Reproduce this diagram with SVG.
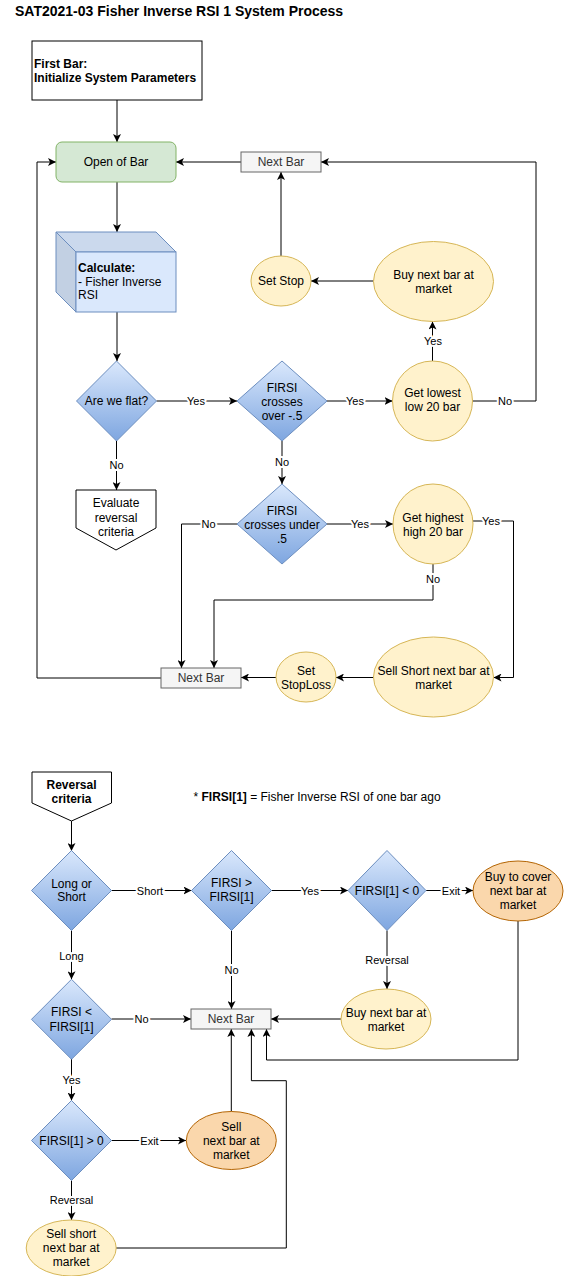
<svg xmlns="http://www.w3.org/2000/svg" width="564" height="1276" viewBox="0 0 564 1276">
<style>
text{font-family:"Liberation Sans",Arial,sans-serif;font-size:12px;fill:#000}
.c{text-anchor:middle}
.b{font-weight:bold}
.nb{fill:#333}
.lbl{font-size:11px;text-anchor:middle;stroke:#fff;stroke-width:4;paint-order:stroke;stroke-linejoin:round}
.e{fill:none;stroke:#000;stroke-width:1}
.a{marker-end:url(#arr)}
.box{fill:#fff;stroke:#000;stroke-width:1}
.green{fill:#d5e8d4;stroke:#82b366}
.gray{fill:#f5f5f5;stroke:#666}
.dia{fill:url(#blueGrad);stroke:#6c8ebf}
.yel{fill:#fff2cc;stroke:#d6b656}
.org{fill:#fad7ac;stroke:#b46504}
</style>
<defs>
<linearGradient id="blueGrad" x1="0" y1="0" x2="0" y2="1">
<stop offset="0" stop-color="#dae8fc"/>
<stop offset="1" stop-color="#7ea6e0"/>
</linearGradient>
<marker id="arr" markerUnits="userSpaceOnUse" markerWidth="8" markerHeight="8" viewBox="0 0 10 10" refX="10" refY="5" orient="auto">
<path d="M0,0 L10,5 L0,10 L2.5,5 z" fill="#000"/>
</marker>
</defs>
<rect width="564" height="1276" fill="#fff"/>
<text x="15" y="16" class="b" style="font-size:14px">SAT2021-03 Fisher Inverse RSI 1 System Process</text>

<g id="connectors">
<path class="e a" d="M117,100 L117,142"/>
<path class="e a" d="M117,182 L117,232"/>
<path class="e a" d="M117,312 L117,361"/>
<path class="e a" d="M156.5,401 L237,401"/>
<path class="e a" d="M327,401 L392.5,401"/>
<path class="e a" d="M472.5,401 L536,401 L536,162 L321,162"/>
<path class="e a" d="M432.5,361 L432.5,321.5"/>
<path class="e a" d="M373.5,281 L311,281"/>
<path class="e a" d="M281,256 L281,172"/>
<path class="e a" d="M241,162 L176,162"/>
<path class="e a" d="M116.5,441 L116.5,490"/>
<path class="e a" d="M282,441 L282,484"/>
<path class="e a" d="M237,524 L181.5,524 L181.5,668"/>
<path class="e a" d="M327,524 L393,524"/>
<path class="e a" d="M473,521 L513.5,521 L513.5,677.5 L493.5,677.5"/>
<path class="e a" d="M433,564 L433,600 L214,600 L214,668"/>
<path class="e a" d="M373.5,677.5 L336,677.5"/>
<path class="e a" d="M276,677.5 L241,677.5"/>
<path class="e a" d="M161,678 L37,678 L37,162 L56,162"/>

<path class="e a" d="M71.5,821 L71.5,851"/>
<path class="e a" d="M111.5,890.5 L191.5,890.5"/>
<path class="e a" d="M271.5,890.5 L348,890.5"/>
<path class="e a" d="M426,890.5 L473,890.5"/>
<path class="e a" d="M71.5,930.5 L71.5,979.3"/>
<path class="e a" d="M231.5,930.5 L231.5,1009"/>
<path class="e a" d="M387,930.5 L387,989"/>
<path class="e a" d="M341,1019 L271,1019"/>
<path class="e a" d="M518,921 L518,1060 L266.5,1060 L266.5,1029"/>
<path class="e a" d="M111.5,1019 L191,1019"/>
<path class="e a" d="M71.5,1059 L71.5,1100.5"/>
<path class="e a" d="M111.5,1140.5 L186,1140.5"/>
<path class="e a" d="M231.3,1111.5 L231.3,1029"/>
<path class="e a" d="M71.5,1180.5 L71.5,1220"/>
<path class="e a" d="M116,1248 L286.3,1248 L286.3,1080.7 L251.4,1080.7 L251.4,1029"/>

<text class="lbl" x="196" y="405">Yes</text>
<text class="lbl" x="355" y="405">Yes</text>
<text class="lbl" x="505" y="405">No</text>
<text class="lbl" x="433" y="345">Yes</text>
<text class="lbl" x="116.5" y="469">No</text>
<text class="lbl" x="282" y="466">No</text>
<text class="lbl" x="208.5" y="528">No</text>
<text class="lbl" x="360" y="528">Yes</text>
<text class="lbl" x="491" y="525">Yes</text>
<text class="lbl" x="433" y="583">No</text>
<text class="lbl" x="150" y="894.5">Short</text>
<text class="lbl" x="310" y="894.5">Yes</text>
<text class="lbl" x="451" y="894.5">Exit</text>
<text class="lbl" x="71.5" y="959.5">Long</text>
<text class="lbl" x="231.5" y="974">No</text>
<text class="lbl" x="387" y="964">Reversal</text>
<text class="lbl" x="141.5" y="1023">No</text>
<text class="lbl" x="71.5" y="1084">Yes</text>
<text class="lbl" x="149.5" y="1144.5">Exit</text>
<text class="lbl" x="71.5" y="1204">Reversal</text>
</g>

<g id="n_firstbar">
<rect class="box" x="32" y="41" width="170" height="59"/>
<text x="34" y="68" class="b">First Bar:</text>
<text x="34" y="82" class="b">Initialize System Parameters</text>
</g>
<g id="n_open">
<rect class="green" x="56" y="142" width="120" height="40" rx="6"/>
<text class="c" x="116" y="166">Open of Bar</text>
</g>
<g id="n_next1">
<rect class="gray" x="241" y="152" width="80" height="20"/>
<text class="c nb" x="281" y="166">Next Bar</text>
</g>
<g id="n_calc">
<path d="M56,232 L156,232 L176,252 L76,252 Z" fill="#cbd9ed" stroke="#6c8ebf"/>
<path d="M56,232 L76,252 L76,312 L56,292 Z" fill="#c2d0e3" stroke="#6c8ebf"/>
<rect x="76" y="252" width="100" height="60" fill="#dae8fc" stroke="#6c8ebf"/>
<text x="78" y="272" class="b">Calculate:</text>
<text x="78" y="285.5">- Fisher Inverse</text>
<text x="78" y="299">RSI</text>
</g>
<g id="n_flat">
<path class="dia" d="M116.5,361 L156.5,401 L116.5,441 L76.5,401 Z"/>
<text class="c" x="116.5" y="405">Are we flat?</text>
</g>
<g id="n_over">
<path class="dia" d="M282,361 L327,401 L282,441 L237,401 Z"/>
<text class="c" x="282" y="392">FIRSI</text>
<text class="c" x="282" y="406">crosses</text>
<text class="c" x="282" y="420">over -.5</text>
</g>
<g id="n_lowest">
<circle class="yel" cx="432.5" cy="401" r="40"/>
<text class="c" x="432.5" y="397">Get lowest</text>
<text class="c" x="432.5" y="411">low 20 bar</text>
</g>
<g id="n_buy1">
<ellipse class="yel" cx="433.5" cy="281.5" rx="60" ry="40"/>
<text class="c" x="433.5" y="279">Buy next bar at</text>
<text class="c" x="433.5" y="293">market</text>
</g>
<g id="n_setstop">
<ellipse class="yel" cx="281" cy="281" rx="30" ry="25"/>
<text class="c" x="281" y="285">Set Stop</text>
</g>
<g id="n_eval">
<path class="box" d="M76,490 L156,490 L156,528 L116,550 L76,528 Z"/>
<text class="c" x="116" y="507">Evaluate</text>
<text class="c" x="116" y="521.5">reversal</text>
<text class="c" x="116" y="535.5">criteria</text>
</g>
<g id="n_under">
<path class="dia" d="M282,484 L327,524 L282,564 L237,524 Z"/>
<text class="c" x="282" y="514.7">FIRSI</text>
<text class="c" x="282" y="528.7">crosses under</text>
<text class="c" x="282" y="542.7">.5</text>
</g>
<g id="n_highest">
<circle class="yel" cx="433" cy="524" r="40"/>
<text class="c" x="433" y="521.7">Get highest</text>
<text class="c" x="433" y="535.7">high 20 bar</text>
</g>
<g id="n_next2">
<rect class="gray" x="161" y="668" width="80" height="20"/>
<text class="c nb" x="201" y="682">Next Bar</text>
</g>
<g id="n_setsl">
<ellipse class="yel" cx="306" cy="677" rx="30" ry="25"/>
<text class="c" x="306" y="674.7">Set</text>
<text class="c" x="306" y="688.7">StopLoss</text>
</g>
<g id="n_sellshort1">
<ellipse class="yel" cx="433.5" cy="677" rx="60" ry="40"/>
<text class="c" x="433.5" y="674.7">Sell Short next bar at</text>
<text class="c" x="433.5" y="688.7">market</text>
</g>

<g id="n_rev">
<path class="box" d="M32,772 L111.5,772 L111.5,803 L71.5,821 L32,803 Z"/>
<text class="c b" x="71.5" y="789">Reversal</text>
<text class="c b" x="71.5" y="803">criteria</text>
</g>
<g id="n_note">
<text x="193.5" y="801">* <tspan class="b">FIRSI[1]</tspan> = Fisher Inverse RSI of one bar ago</text>
</g>
<g id="n_ls">
<path class="dia" d="M71.5,850.5 L111.5,890.5 L71.5,930.5 L31.5,890.5 Z"/>
<text class="c" x="71.5" y="888">Long or</text>
<text class="c" x="71.5" y="901">Short</text>
</g>
<g id="n_gt">
<path class="dia" d="M231.5,850.5 L271.5,890.5 L231.5,930.5 L191.5,890.5 Z"/>
<text class="c" x="231.5" y="887">FIRSI &gt;</text>
<text class="c" x="231.5" y="901">FIRSI[1]</text>
</g>
<g id="n_lt0">
<path class="dia" d="M387,850.5 L426,890.5 L387,930.5 L348,890.5 Z"/>
<text class="c" x="387" y="894.5">FIRSI[1] &lt; 0</text>
</g>
<g id="n_btc">
<ellipse class="org" cx="518" cy="891" rx="45" ry="30"/>
<text class="c" x="518" y="881">Buy to cover</text>
<text class="c" x="518" y="895">next bar at</text>
<text class="c" x="518" y="909">market</text>
</g>
<g id="n_lt">
<path class="dia" d="M71.5,979.3 L111.5,1019.3 L71.5,1059.3 L31.5,1019.3 Z"/>
<text class="c" x="71.5" y="1016">FIRSI &lt;</text>
<text class="c" x="71.5" y="1030.7">FIRSI[1]</text>
</g>
<g id="n_next3">
<rect class="gray" x="191" y="1009" width="80" height="20"/>
<text class="c nb" x="231" y="1023">Next Bar</text>
</g>
<g id="n_buy2">
<ellipse class="yel" cx="386" cy="1019" rx="45" ry="30"/>
<text class="c" x="386" y="1016.7">Buy next bar at</text>
<text class="c" x="386" y="1030.7">market</text>
</g>
<g id="n_gt0">
<path class="dia" d="M71.5,1100.5 L111.5,1140.5 L71.5,1180.5 L31.5,1140.5 Z"/>
<text class="c" x="71.5" y="1144.5">FIRSI[1] &gt; 0</text>
</g>
<g id="n_sell">
<ellipse class="org" cx="231.3" cy="1140.5" rx="45" ry="29"/>
<text class="c" x="231.3" y="1130.7">Sell</text>
<text class="c" x="231.3" y="1144.7">next bar at</text>
<text class="c" x="231.3" y="1158.7">market</text>
</g>
<g id="n_ss">
<ellipse class="yel" cx="71.2" cy="1248" rx="45" ry="28"/>
<text class="c" x="71.2" y="1238.3">Sell short</text>
<text class="c" x="71.2" y="1252.3">next bar at</text>
<text class="c" x="71.2" y="1266.3">market</text>
</g>
</svg>
